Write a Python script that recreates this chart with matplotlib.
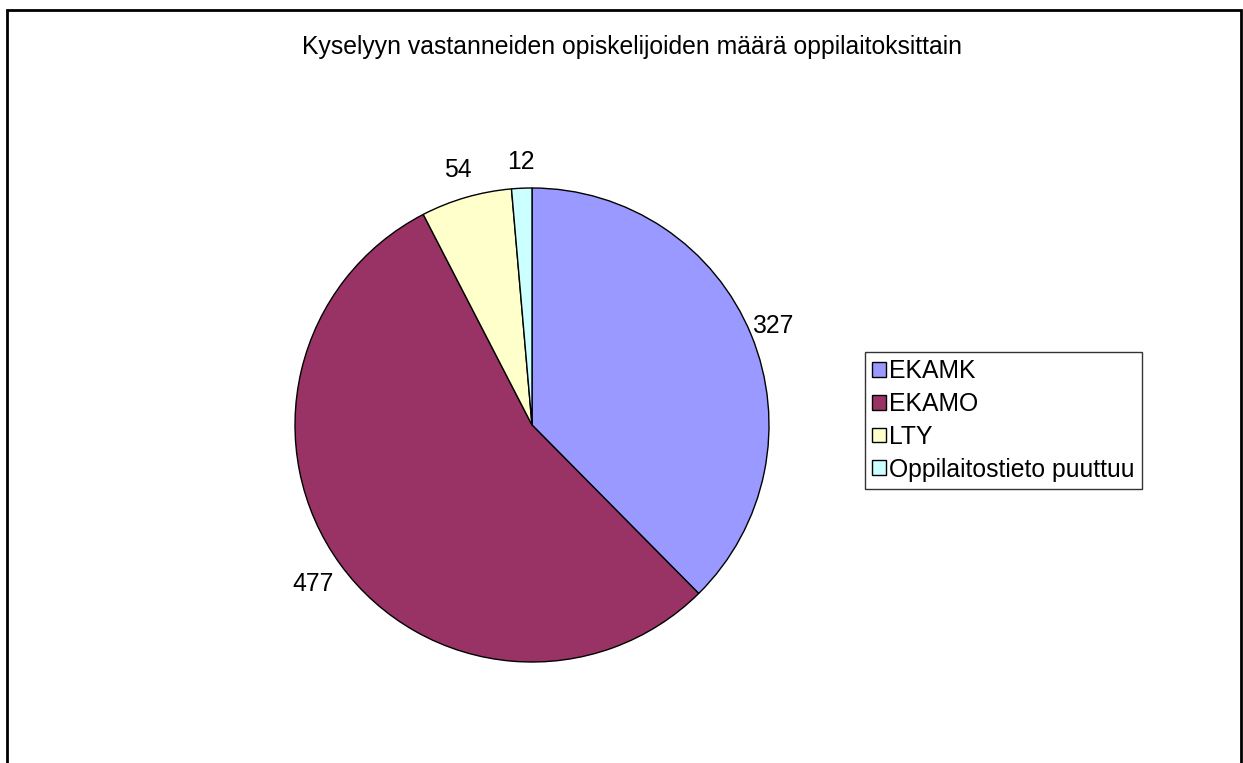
import matplotlib
matplotlib.use("Agg")
import matplotlib.pyplot as plt
from matplotlib.patches import Rectangle
import numpy as np

plt.rcParams['font.family'] = ['Liberation Sans', 'DejaVu Sans']

title = "Kyselyyn vastanneiden opiskelijoiden määrä oppilaitoksittain"
categories = ["EKAMK", "EKAMO", "LTY", "Oppilaitostieto puuttuu"]
values = [327, 477, 54, 12]
colors = ["#9999FF", "#993366", "#FFFFCC", "#CCFFFF"]
label_dist = [1.10, 1.14, 1.12, 1.11]

W, H = 1243, 763
FS = 17.8
fig = plt.figure(figsize=(W / 100, H / 100), dpi=100)
ax = fig.add_axes([0, 0, 1, 1])

cx, cy, r = 532, H - 425, 237
wedges, texts = ax.pie(values, labels=[str(v) for v in values], colors=colors,
                       startangle=90, counterclock=False, center=(cx, cy), radius=r,
                       labeldistance=1.1,
                       wedgeprops=dict(edgecolor="black", linewidth=1.0),
                       textprops=dict(fontsize=FS, color="black"))
for w, t, d in zip(wedges, texts, label_dist):
    ang = np.deg2rad((w.theta1 + w.theta2) / 2)
    t.set_position((cx + d * r * np.cos(ang), cy + d * r * np.sin(ang)))
    t.set_ha('center')
    t.set_va('center')

ax.set_xlim(0, W)
ax.set_ylim(0, H)
ax.set_aspect('auto')
ax.axis('off')

fig.text(632 / W, 1 - 47 / H, title, ha='center', va='center', fontsize=FS)

leg = fig.legend(wedges, categories, loc='upper left',
                 bbox_to_anchor=(865 / W, 1 - 352 / H),
                 frameon=True, fancybox=False, shadow=False,
                 fontsize=FS, handlelength=0.55, handleheight=0.55,
                 handletextpad=0.15, labelspacing=0.36, borderpad=0.28,
                 borderaxespad=0)
leg.get_frame().set_edgecolor('black')
leg.get_frame().set_linewidth(1.0)

fig.patches.append(Rectangle((7 / W, -0.01), (1241 - 7) / W, (H - 10) / H + 0.01,
                             transform=fig.transFigure, fill=False,
                             edgecolor='black', linewidth=2))

fig.savefig("out.png", dpi=100)
